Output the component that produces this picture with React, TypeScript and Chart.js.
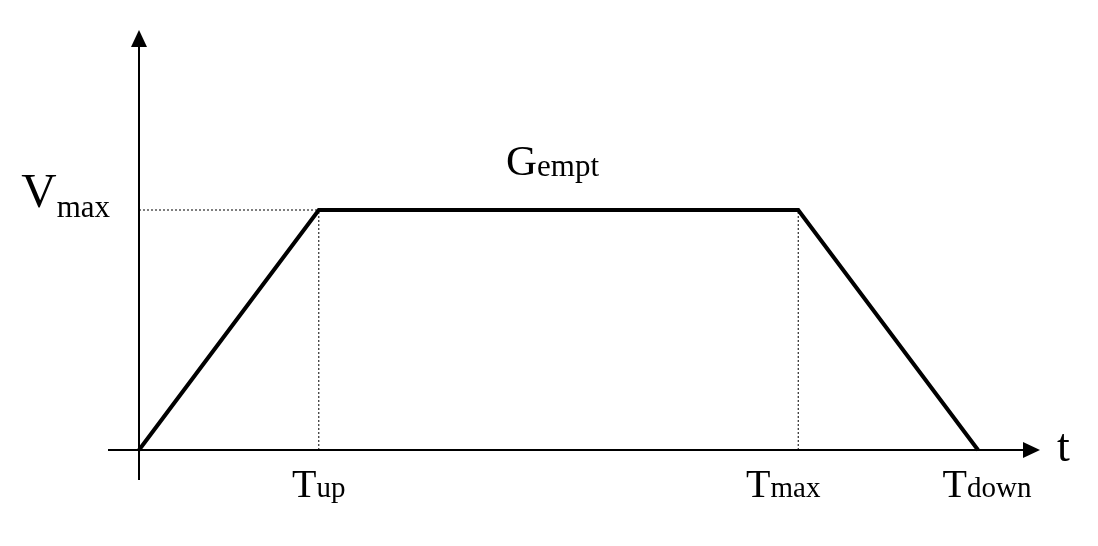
import React, { useEffect, useRef } from "react";
import { Chart, registerables } from "chart.js";

Chart.register(...registerables);

// ---- data (arbitrary units) ----
const times = [0, 3, 11, 14]; // 0, T_up, T_max, T_down
const velocity = [0, 4, 4, 0]; // 0, V_max, V_max, 0
const markerTimes = [3, 11, 14];
const markerBase = ["T", "T", "T"];
const markerSub = ["up", "max", "down"];
const vLabelBase = "V";
const vLabelSub = "max";
const plateauBase = "G";
const plateauSub = "empt";
const axisLabel = "t";

const SERIF = '"Liberation Serif", "Times New Roman", serif';

function drawSubText(
  ctx: CanvasRenderingContext2D,
  base: string,
  sub: string,
  x: number,
  y: number,
  baseSize: number,
  subSize: number,
  subDy: number,
  align: "left" | "center" | "right"
) {
  ctx.font = `${baseSize}px ${SERIF}`;
  const wb = ctx.measureText(base).width;
  ctx.font = `${subSize}px ${SERIF}`;
  const ws = ctx.measureText(sub).width;
  const total = wb + ws;
  let left = x;
  if (align === "center") left = x - total / 2;
  if (align === "right") left = x - total;
  ctx.textAlign = "left";
  ctx.textBaseline = "alphabetic";
  ctx.fillStyle = "#000";
  ctx.font = `${baseSize}px ${SERIF}`;
  ctx.fillText(base, left, y);
  ctx.font = `${subSize}px ${SERIF}`;
  ctx.fillText(sub, left + wb, y + subDy);
}

const decorPlugin = {
  id: "decor",
  beforeDatasetsDraw(chart: any) {
    const ctx: CanvasRenderingContext2D = chart.ctx;
    const xs = chart.scales.x;
    const ys = chart.scales.y;
    const x0 = xs.getPixelForValue(0);
    const y0 = ys.getPixelForValue(0);
    ctx.save();
    ctx.strokeStyle = "#000";
    ctx.fillStyle = "#000";
    ctx.lineWidth = 2;
    // vertical axis
    ctx.beginPath();
    ctx.moveTo(x0, y0 + 30);
    ctx.lineTo(x0, 44);
    ctx.stroke();
    ctx.beginPath();
    ctx.moveTo(x0, 30);
    ctx.lineTo(x0 - 8, 47);
    ctx.lineTo(x0 + 8, 47);
    ctx.closePath();
    ctx.fill();
    // horizontal axis
    const xEnd = 1040;
    ctx.beginPath();
    ctx.moveTo(x0 - 31, y0);
    ctx.lineTo(xEnd - 14, y0);
    ctx.stroke();
    ctx.beginPath();
    ctx.moveTo(xEnd, y0);
    ctx.lineTo(xEnd - 17, y0 - 8);
    ctx.lineTo(xEnd - 17, y0 + 8);
    ctx.closePath();
    ctx.fill();
    ctx.restore();
  },
  afterDatasetsDraw(chart: any) {
    const ctx: CanvasRenderingContext2D = chart.ctx;
    const xs = chart.scales.x;
    const ys = chart.scales.y;
    const x0 = xs.getPixelForValue(0);
    const y0 = ys.getPixelForValue(0);
    const vmax = Math.max(...velocity);
    const yV = ys.getPixelForValue(vmax);
    ctx.save();
    // time markers
    const nudges = [0, -15, 9];
    markerTimes.forEach((t, i) => {
      const px = xs.getPixelForValue(t);
      drawSubText(ctx, markerBase[i], markerSub[i], px + nudges[i], y0 + 47, 40, 29, 0, "center");
    });
    // V_max
    drawSubText(ctx, vLabelBase, vLabelSub, x0 - 29, yV - 3, 49, 31, 10, "right");
    // G_empt
    const xm = (xs.getPixelForValue(times[1]) + xs.getPixelForValue(times[2])) / 2;
    drawSubText(ctx, plateauBase, plateauSub, xm - 6, yV - 35, 43, 31, 1, "center");
    // t
    ctx.font = `46px ${SERIF}`;
    ctx.fillStyle = "#000";
    ctx.textAlign = "left";
    ctx.textBaseline = "alphabetic";
    ctx.fillText(axisLabel, 1057, y0 + 11);
    ctx.restore();
  },
};

export default function App() {
  const ref = useRef<HTMLCanvasElement | null>(null);
  useEffect(() => {
    if (!ref.current) return;
    const vmax = Math.max(...velocity);
    const guide = (pts: { x: number; y: number }[]) => ({
      data: pts,
      borderColor: "#000",
      borderWidth: 1,
      borderDash: [2, 2],
      pointRadius: 0,
      fill: false,
      tension: 0,
    });
    const chart = new Chart(ref.current, {
      type: "line",
      data: {
        datasets: [
          {
            data: times.map((t, i) => ({ x: t, y: velocity[i] })),
            borderColor: "#000",
            borderWidth: 4,
            pointRadius: 0,
            fill: false,
            tension: 0,
            borderJoinStyle: "miter",
            borderCapStyle: "butt",
          } as any,
          guide([
            { x: 0, y: vmax },
            { x: markerTimes[0], y: vmax },
          ]),
          guide([
            { x: markerTimes[0], y: 0 },
            { x: markerTimes[0], y: vmax },
          ]),
          guide([
            { x: markerTimes[1], y: 0 },
            { x: markerTimes[1], y: vmax },
          ]),
        ],
      },
      options: {
        animation: false,
        responsive: false,
        maintainAspectRatio: false,
        layout: { padding: 0 },
        plugins: { legend: { display: false }, tooltip: { enabled: false } },
        scales: {
          x: { type: "linear", min: -2.3194, max: 16.002, display: false },
          y: { type: "linear", min: -1.6, max: 7.5, display: false },
        },
      },
      plugins: [decorPlugin],
    });
    return () => chart.destroy();
  }, []);
  return (
    <div style={{ position: "absolute", left: 0, top: 0, width: 1098, height: 546, background: "#fff" }}>
      <canvas ref={ref} width={1098} height={546} style={{ display: "block" }} />
    </div>
  );
}
